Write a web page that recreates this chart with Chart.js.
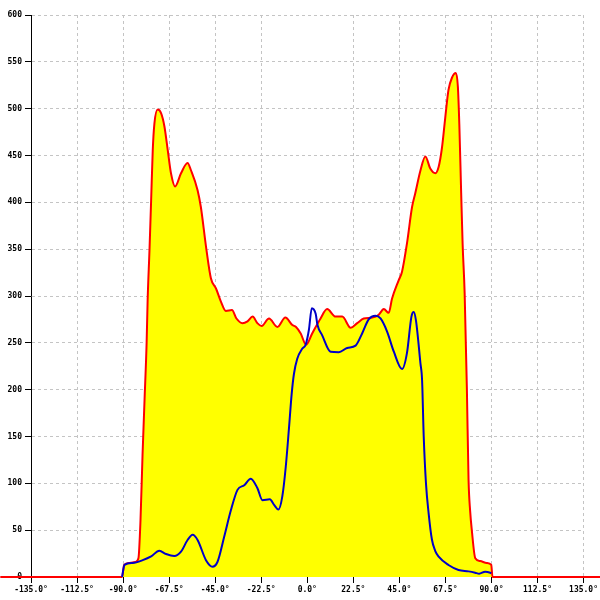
<!DOCTYPE html>
<html>
<head>
<meta charset="utf-8">
<script src="https://cdn.jsdelivr.net/npm/chart.js@4"></script>
<style>
  body { margin: 0; background: #fff; }
</style>
</head>
<body>
<canvas id="chart" width="600" height="600"></canvas>
<script>
// total (red / yellow fill)
var totalAngles = [-150, -91, -90.5, -89.5, -87, -84, -82.5, -81.5, -80.5, -79.5, -78.5, -78, -77.1, -76.3, -75.5,
  -74.7, -73.1, -71.4, -69.8, -68.2, -66.6, -64.6, -61.7, -58.5, -56.8, -53.6, -52, -49.5, -47.1,
  -44.6, -42.2, -39.8, -36.8, -34.6, -31.7, -29.2, -26.7, -24.4, -22.3, -18.7, -14.6, -10.7, -7.3,
  -5.5, -3.2, -0.6, 2.4, 6.5, 9.7, 13.8, 17.1, 21.2, 24.4, 27.6, 31.7, 34.9, 37.4, 39.8, 41.4,
  44.7, 46.3, 48.7, 51.2, 52.8, 55.3, 57.7, 60.1, 62.6, 64.2, 65.8, 67.4, 69, 70.7, 72.6, 73.6, 74.3,
  75.2, 75.9, 76.9, 78, 78.8, 79.6, 80.4, 82.1, 84.5, 87.7, 89.9, 90.5, 150];
var totalValues = [0, 0, 0, 13, 15, 16, 20, 60, 130, 190, 250, 296, 349, 402, 456,
  484, 499, 495, 481, 456, 431, 417, 431, 442, 434, 413, 395, 353, 319,
  308, 294, 284, 285, 276, 271, 273, 278, 271, 268, 276, 267, 277, 269,
  267, 260, 248, 260, 276, 286, 278, 278, 266, 271, 276, 277, 280, 286, 282, 297,
  317, 326, 356, 395, 410, 434, 449, 436, 431, 438, 458, 490, 520, 533, 538, 523, 483,
  410, 356, 303, 200, 104, 70, 50, 20, 17, 15, 13, 0, 0];

// second series (blue line)
var lineAngles = [-90.5, -89.3, -85.3, -80.4, -76.3, -72.3, -69, -65, -61.7, -58.5, -56, -53.6, -49.5,
  -46.3, -43.9, -40.6, -37.3, -34.1, -30.8, -27.6, -24.4, -21.9, -18.3, -16.2, -14.1, -12.2, -10.5,
  -8.9, -7.6, -6.5, -4.9, -2.4, -0.8, 0.8, 2.2, 4.1, 5, 7.3, 11.4, 15.4, 19.5, 23.6, 26.8, 30, 33.3,
  35.8, 39, 42.3, 46.3, 48.7, 50.9, 52, 53.1, 55.3, 56.1, 56.9, 58, 59.3, 60.9, 62.5, 64.2, 69, 73.9,
  78.8, 82, 84, 86.9, 89.4, 89.9];
var lineValues = [0, 13, 15, 18, 22, 28, 24.5, 22.4, 27, 39.5, 45, 39.5, 18,
  11, 16, 43, 71.5, 93, 98, 105, 95, 82, 83, 77, 72, 86, 118,
  160, 196, 217, 233, 244, 248, 264, 287, 281, 269, 258, 240.5, 240, 244.5, 247, 260, 275, 279,
  276, 262, 240.5, 222, 239, 278, 283, 274, 228, 210, 150, 100, 68, 40, 28, 21.7, 12.8, 7.5,
  6, 4.6, 3.5, 5.7, 4.6, 4];

var xTicks = { min: -135, max: 135, step: 22.5 };
var yTicks = { min: 0, max: 600, step: 50 };

function toPoints(xs, ys) {
  return xs.map(function (x, i) { return { x: x, y: ys[i] }; });
}

var tickFont = { family: 'DejaVu Sans Mono', size: 8, weight: 'bold' };
var gridColor = function (c) {
  return c.tick && c.tick.value === 0 ? 'rgba(0,0,0,0)' : '#c4c4c4';
};

new Chart(document.getElementById('chart').getContext('2d'), {
  type: 'line',
  data: {
    datasets: [{
      label: 'line',
      data: toPoints(lineAngles, lineValues),
      borderColor: '#0000c8',
      borderWidth: 2,
      pointRadius: 0,
      fill: false,
      cubicInterpolationMode: 'monotone',
      order: 0
    }, {
      label: 'total',
      data: toPoints(totalAngles, totalValues),
      borderColor: '#ff0000',
      backgroundColor: '#ffff00',
      borderWidth: 2,
      pointRadius: 0,
      fill: 'origin',
      cubicInterpolationMode: 'monotone',
      clip: { left: 35, right: 20, top: 2, bottom: 2 },
      order: 1
    }]
  },
  options: {
    responsive: false,
    animation: false,
    layout: { padding: { top: 15, right: 13, left: 0, bottom: 0 } },
    plugins: { legend: { display: false }, tooltip: { enabled: false } },
    scales: {
      x: {
        type: 'linear',
        min: xTicks.min,
        max: xTicks.max,
        z: 1,
        afterFit: function (s) { s.height = 23; },
        border: { display: false, dash: [3, 3] },
        grid: { color: gridColor, tickColor: '#000', tickLength: 6, lineWidth: 1 },
        ticks: {
          stepSize: xTicks.step,
          autoSkip: false,
          maxRotation: 0,
          padding: 2,
          color: '#000',
          font: tickFont,
          callback: function (v) { return Number(v).toFixed(1) + '°'; }
        }
      },
      y: {
        min: yTicks.min,
        max: yTicks.max,
        z: 1,
        afterFit: function (s) { s.width = 31; },
        border: { display: true, color: '#000', width: 1, dash: [3, 3] },
        grid: { color: gridColor, tickColor: '#000', tickLength: 6, lineWidth: 1 },
        ticks: {
          stepSize: yTicks.step,
          padding: 3,
          color: '#000',
          font: tickFont
        }
      }
    }
  }
});
</script>
</body>
</html>
